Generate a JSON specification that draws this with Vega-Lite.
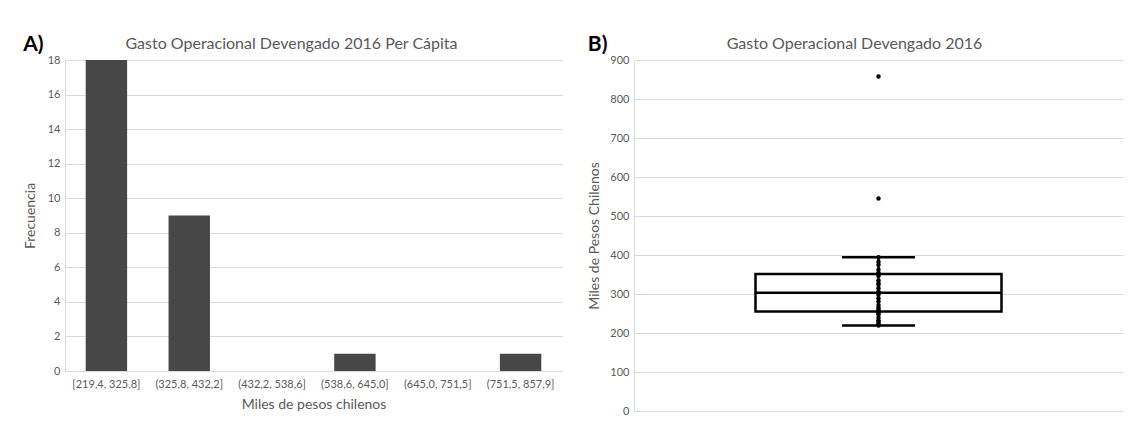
{
  "$schema": "https://vega.github.io/schema/vega-lite/v6.json",
  "padding": {"left": 23, "top": 34, "right": 5, "bottom": 0},
  "background": "white",
  "config": {
    "font": "Lato",
    "view": {"stroke": null},
    "axis": {
      "labelColor": "#595959", "titleColor": "#595959",
      "labelFont": "Lato", "titleFont": "Lato",
      "labelFontSize": 11, "titleFontSize": 14, "titleFontWeight": "normal",
      "gridColor": "#d9d9d9", "domainColor": "#d9d9d9", "ticks": false
    },
    "title": {"font": "Lato"},
    "concat": {"spacing": 25}
  },
  "datasets": {
    "hist": [
      {"intervalo": "[219,4, 325,8]", "frecuencia": 18},
      {"intervalo": "(325,8, 432,2]", "frecuencia": 9},
      {"intervalo": "(432,2, 538,6]", "frecuencia": 0},
      {"intervalo": "(538,6, 645,0]", "frecuencia": 1},
      {"intervalo": "(645,0, 751,5]", "frecuencia": 0},
      {"intervalo": "(751,5, 857,9]", "frecuencia": 1}
    ],
    "gasto": [
      {"grupo": "Gasto", "valor": 219.4},
      {"grupo": "Gasto", "valor": 224},
      {"grupo": "Gasto", "valor": 228},
      {"grupo": "Gasto", "valor": 233},
      {"grupo": "Gasto", "valor": 240},
      {"grupo": "Gasto", "valor": 248},
      {"grupo": "Gasto", "valor": 252},
      {"grupo": "Gasto", "valor": 255},
      {"grupo": "Gasto", "valor": 260},
      {"grupo": "Gasto", "valor": 265},
      {"grupo": "Gasto", "valor": 272},
      {"grupo": "Gasto", "valor": 281},
      {"grupo": "Gasto", "valor": 289},
      {"grupo": "Gasto", "valor": 298},
      {"grupo": "Gasto", "valor": 303},
      {"grupo": "Gasto", "valor": 306},
      {"grupo": "Gasto", "valor": 315},
      {"grupo": "Gasto", "valor": 324},
      {"grupo": "Gasto", "valor": 328},
      {"grupo": "Gasto", "valor": 335},
      {"grupo": "Gasto", "valor": 346},
      {"grupo": "Gasto", "valor": 351},
      {"grupo": "Gasto", "valor": 354},
      {"grupo": "Gasto", "valor": 362},
      {"grupo": "Gasto", "valor": 375},
      {"grupo": "Gasto", "valor": 383},
      {"grupo": "Gasto", "valor": 394},
      {"grupo": "Gasto", "valor": 545},
      {"grupo": "Gasto", "valor": 857.9}
    ]
  },
  "hconcat": [
    {
      "title": {"text": "A)", "anchor": "start", "frame": "bounds", "fontSize": 21, "fontWeight": "bold", "color": "black", "offset": -20},
      "width": 497,
      "height": 311,
      "data": {"name": "hist"},
      "layer": [
        {
          "mark": {"type": "bar", "color": "#474747"},
          "encoding": {
            "x": {
              "field": "intervalo", "type": "nominal", "sort": null,
              "scale": {"paddingInner": 0.5, "paddingOuter": 0.25},
              "axis": {"title": "Miles de pesos chilenos", "labelAngle": 0, "labelPadding": 7, "titlePadding": 8, "grid": false}
            },
            "y": {
              "field": "frecuencia", "type": "quantitative",
              "scale": {"domain": [0, 18], "nice": false},
              "axis": {"title": "Frecuencia", "values": [0, 2, 4, 6, 8, 10, 12, 14, 16, 18], "tickCount": 10, "labelOverlap": false, "labelPadding": 5, "titlePadding": 10}
            }
          }
        },
        {
          "mark": {"type": "bar", "opacity": 0},
          "encoding": {
            "x": {
              "field": "intervalo", "type": "nominal", "sort": null,
              "axis": {"orient": "top", "title": "Gasto Operacional Devengado 2016 Per Cápita", "labels": false, "domain": false, "ticks": false, "grid": false, "titleFontSize": 16, "titlePadding": 9, "titleX": 226}
            },
            "y": {
              "field": "frecuencia", "type": "quantitative",
              "axis": {"title": "Frecuencia", "values": [0, 2, 4, 6, 8, 10, 12, 14, 16, 18], "tickCount": 10, "labelOverlap": false, "labelPadding": 5, "titlePadding": 10}
            }
          }
        }
      ],
      "resolve": {"axis": {"x": "independent"}}
    },
    {
      "title": {"text": "B)", "anchor": "start", "frame": "bounds", "fontSize": 21, "fontWeight": "bold", "color": "black", "offset": -20},
      "width": 489,
      "height": 351,
      "data": {"name": "gasto"},
      "layer": [
        {
          "mark": {
            "type": "boxplot", "extent": 1.5, "size": 246,
            "box": {"color": "white", "stroke": "black", "strokeWidth": 2.5},
            "median": {"color": "black", "thickness": 2.5, "opacity": 1},
            "rule": {"color": "black", "strokeWidth": 2.5, "opacity": 1},
            "ticks": {"color": "black", "size": 73, "thickness": 2.5, "opacity": 1},
            "outliers": false
          },
          "encoding": {
            "x": {
              "field": "grupo", "type": "nominal",
              "axis": {"orient": "top", "title": "Gasto Operacional Devengado 2016", "labels": false, "domain": false, "ticks": false, "grid": false, "titleFontSize": 16, "titlePadding": 9, "titleX": 220}
            },
            "y": {
              "field": "valor", "type": "quantitative",
              "scale": {"domain": [0, 900], "nice": false},
              "axis": {"title": "Miles de Pesos Chilenos", "values": [0, 100, 200, 300, 400, 500, 600, 700, 800, 900], "tickCount": 10, "labelOverlap": false, "labelPadding": 5, "titlePadding": 8}
            }
          }
        },
        {
          "mark": {"type": "point", "filled": true, "color": "black", "size": 20, "opacity": 1},
          "encoding": {
            "x": {"field": "grupo", "type": "nominal"},
            "y": {
              "field": "valor", "type": "quantitative",
              "axis": {"title": "Miles de Pesos Chilenos", "values": [0, 100, 200, 300, 400, 500, 600, 700, 800, 900], "tickCount": 10, "labelOverlap": false, "labelPadding": 5, "titlePadding": 8}
            }
          }
        }
      ]
    }
  ]
}
